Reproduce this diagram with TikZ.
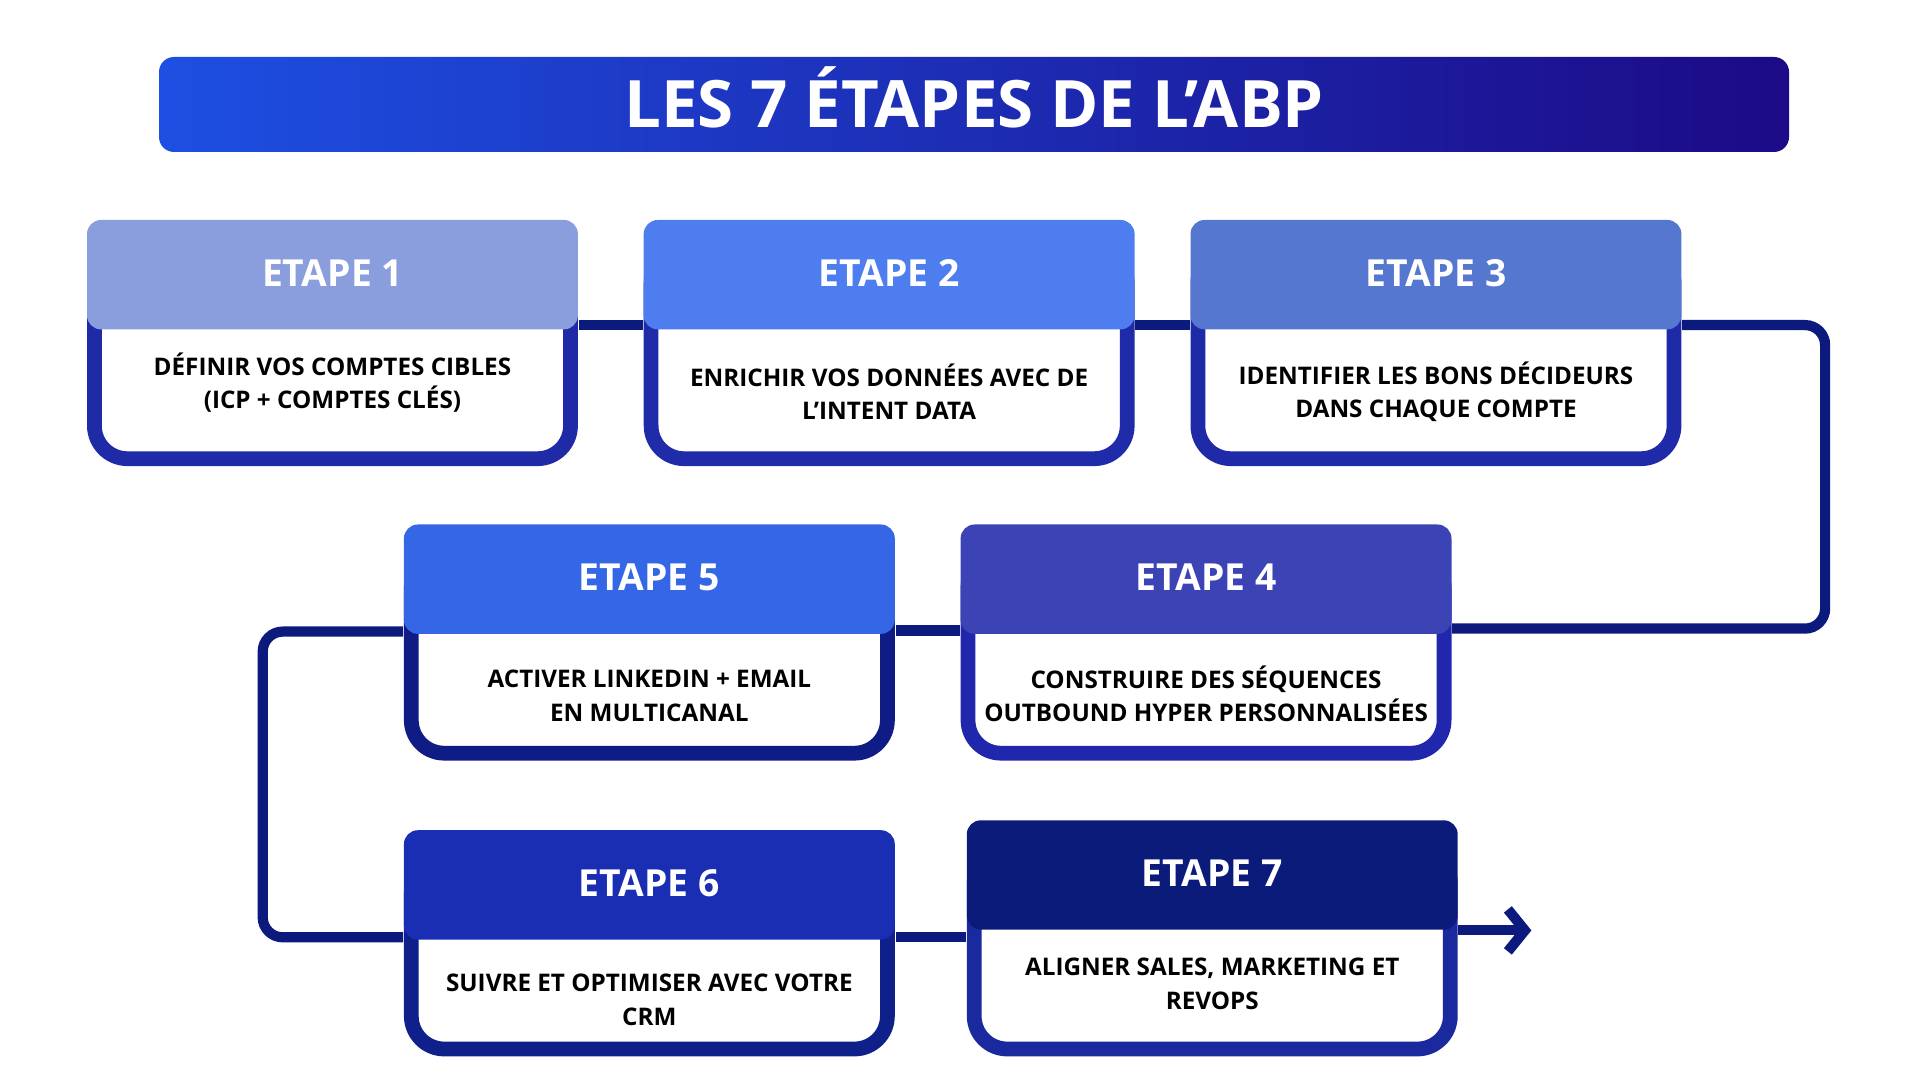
\documentclass[tikz,border=0pt]{standalone}
\usepackage{fontspec}
\setmainfont{Open Sans}
\usepackage{tikz}
\usetikzlibrary{arrows.meta,backgrounds}

\definecolor{bleulien}{HTML}{0C1A7E}
\definecolor{titregauche}{HTML}{1D4FE2}
\definecolor{titredroite}{HTML}{1C0A86}
\definecolor{h1}{HTML}{8A9EDE}
\definecolor{h2}{HTML}{4E7DF0}
\definecolor{h3}{HTML}{5677CF}
\definecolor{h4}{HTML}{3C43B4}
\definecolor{h5}{HTML}{3566E6}
\definecolor{h6}{HTML}{1A2EB3}
\definecolor{h7}{HTML}{0B1B7A}
\definecolor{f1}{HTML}{1E2AA6}
\definecolor{f2}{HTML}{1F2BA8}
\definecolor{f3}{HTML}{1F2AA8}
\definecolor{f4}{HTML}{2027AD}
\definecolor{f5}{HTML}{0F1C85}
\definecolor{f6}{HTML}{10208A}
\definecolor{f7}{HTML}{1A2A9E}

\tikzset{
    titre/.style={rounded corners=0.15cm, minimum width=16.30cm, minimum height=0.95cm,
        left color=titregauche, right color=titredroite, text=white,
        text height=13.3pt, text depth=0pt,
        font=\bfseries\fontsize{18.6}{22}\selectfont},
    entete/.style={rounded corners=0.14cm, minimum width=4.909cm, minimum height=1.094cm,
        inner sep=0pt, text=white, text depth=0.04cm, font=\bfseries\fontsize{10.6}{13}\selectfont},
    cadre/.style={fill=white, line width=4.2pt, rounded corners=0.33cm,
        minimum width=4.761cm, inner sep=0pt},
    texte/.style={align=center, inner sep=0pt, font=\bfseries\fontsize{6.9}{9.5}\selectfont},
    lien/.style={draw=bleulien, line width=2.9pt},
}

\begin{document}
\begin{tikzpicture}
            \useasboundingbox (0,0) rectangle (19.2,10.8);

            \node[titre] (titre) at (9.74,9.755) {LES 7 ÉTAPES DE L’ABP};

            % n / gauche / haut / bas / texte y / couleurs / texte
            \foreach \n/\x/\yt/\yb/\ty/\hc/\fc/\txt in {
                1/0.870/8.600/6.139/6.972/h1/f1/{DÉFINIR VOS COMPTES CIBLES\\(ICP + COMPTES CLÉS)},
                2/6.437/8.600/6.139/6.885/h2/f2/{ENRICHIR VOS DONNÉES AVEC DE\\L’INTENT DATA},
                3/11.905/8.600/6.139/6.885/h3/f3/{IDENTIFIER LES BONS DÉCIDEURS\\DANS CHAQUE COMPTE},
                4/9.606/5.555/3.194/3.859/h4/f4/{CONSTRUIRE DES SÉQUENCES\\OUTBOUND HYPER PERSONNALISÉES},
                5/4.039/5.555/3.194/3.840/h5/f5/{ACTIVER LINKEDIN + EMAIL\\EN MULTICANAL},
                6/4.039/2.498/0.236/0.802/h6/f6/{SUIVRE ET OPTIMISER AVEC VOTRE\\CRM},
                7/9.668/2.597/0.236/0.963/h7/f7/{ALIGNER SALES, MARKETING ET\\REVOPS}}{
                \pgfmathsetmacro\cx{\x+2.4545}
                \pgfmathsetmacro\cy{(\yt-0.3+\yb+0.074)/2}
                \pgfmathsetmacro\hy{\yt-0.547}
                \node[cadre, draw=\fc, minimum height={(\yt-0.374-\yb)*1cm}] (b\n) at (\cx,\cy) {};
                \node[entete, fill=\hc] (h\n) at (\cx,\hy) {ETAPE \n};
                \node[texte] (t\n) at (\cx,\ty) {\txt};
            }

            \coordinate (fin) at ([xshift=0.73cm]h7.south east);

            \begin{scope}[on background layer]
                \draw[lien] ([yshift=0.05cm]h1.south east) -- ([yshift=0.05cm]h2.south west);
                \draw[lien] ([yshift=0.05cm]h2.south east) -- ([yshift=0.05cm]h3.south west);
                \draw[lien, rounded corners=0.2cm] ([yshift=0.05cm]h3.south east) -- ++(1.43,0) |- ([yshift=0.06cm]h4.south east);
                \draw[lien] ([yshift=0.04cm]h4.south west) -- ([yshift=0.04cm]h5.south east);
                \draw[lien, rounded corners=0.2cm] ([yshift=0.03cm]h5.south west) -- ++(-1.405,0) |- ([yshift=0.03cm]h6.south west);
                \draw[lien] ([yshift=0.03cm]h6.south east) -- ([yshift=0.03cm]h6.south east -| h7.west);
                \draw[lien, -{Straight Barb[length=0.17cm, width=0.42cm]}] (h7.south east) -- (fin);
            \end{scope}
        \end{tikzpicture}
\end{document}
